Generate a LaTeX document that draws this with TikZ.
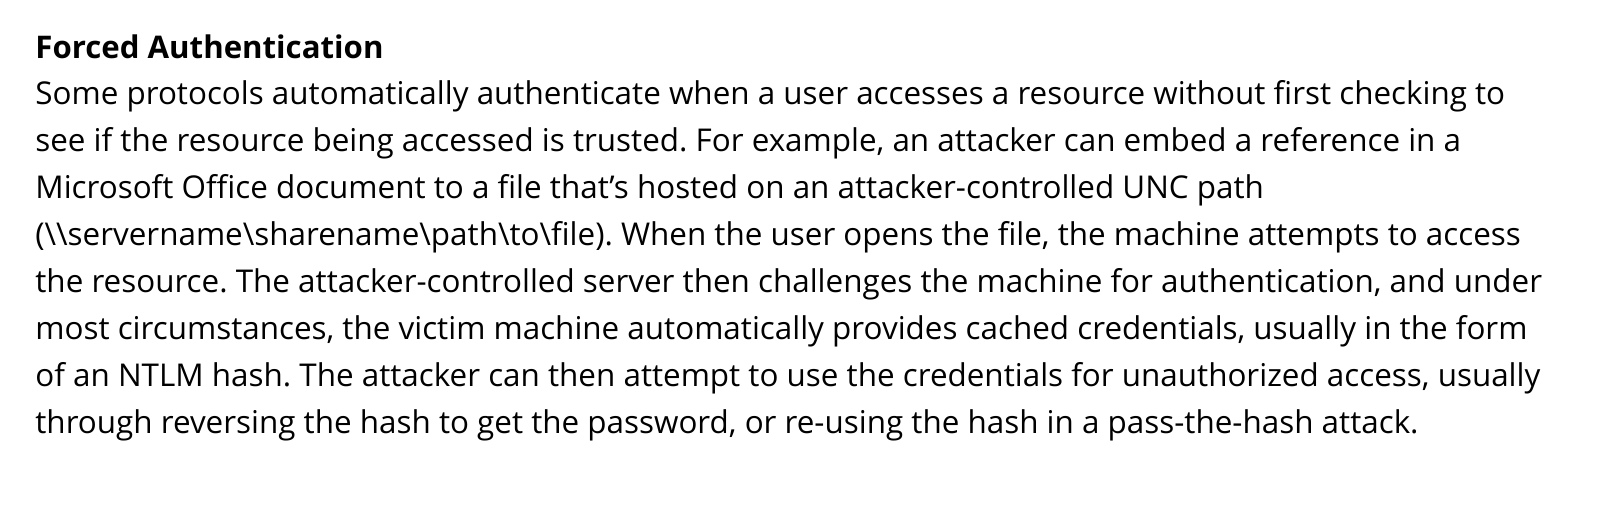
\documentclass[tikz,border=0pt]{standalone}
\usepackage{fontspec}
\setmainfont{Open Sans}
\usepackage{tikz}
\usetikzlibrary{positioning}

\tikzset{
  para/.style={anchor=base west, inner sep=0pt, font=\fontsize{15.7}{20}\selectfont\frenchspacing},
  heading/.style={para, font=\fontsize{15.6}{20}\selectfont\bfseries}
}

\begin{document}
\begin{tikzpicture}[x=0.5pt, y=-0.5pt]
				\useasboundingbox (0,0) rectangle (1600,517);
				\fill [white] (0,0) rectangle (1600,517);
				
				\node [heading] (title) at (35,59) {Forced Authentication};
				
				% % % % % % % % % % % % % % % % % % % % % % % % % %
				
				\node [para] (l1) at (35,105) {Some protocols automatically authenticate when a user accesses a resource without first checking to};
				\node [para] (l2) at (35,152) {see if the resource being accessed is trusted. For example, an attacker can embed a reference in a};
				\node [para] (l3) at (35,199) {Microsoft Office document to a file that’s hosted on an attacker-controlled UNC path};
				\node [para] (l4) at (35,246) {(\textbackslash\textbackslash servername\textbackslash sharename\textbackslash path\textbackslash to\textbackslash file). When the user opens the file, the machine attempts to access};
				\node [para] (l5) at (35,293) {the resource. The attacker-controlled server then challenges the machine for authentication, and under};
				\node [para] (l6) at (35,340) {most circumstances, the victim machine automatically provides cached credentials, usually in the form};
				\node [para] (l7) at (35,387) {of an NTLM hash. The attacker can then attempt to use the credentials for unauthorized access, usually};
				\node [para] (l8) at (35,434) {through reversing the hash to get the password, or re-using the hash in a pass-the-hash attack.};
				\end{tikzpicture}
\end{document}
